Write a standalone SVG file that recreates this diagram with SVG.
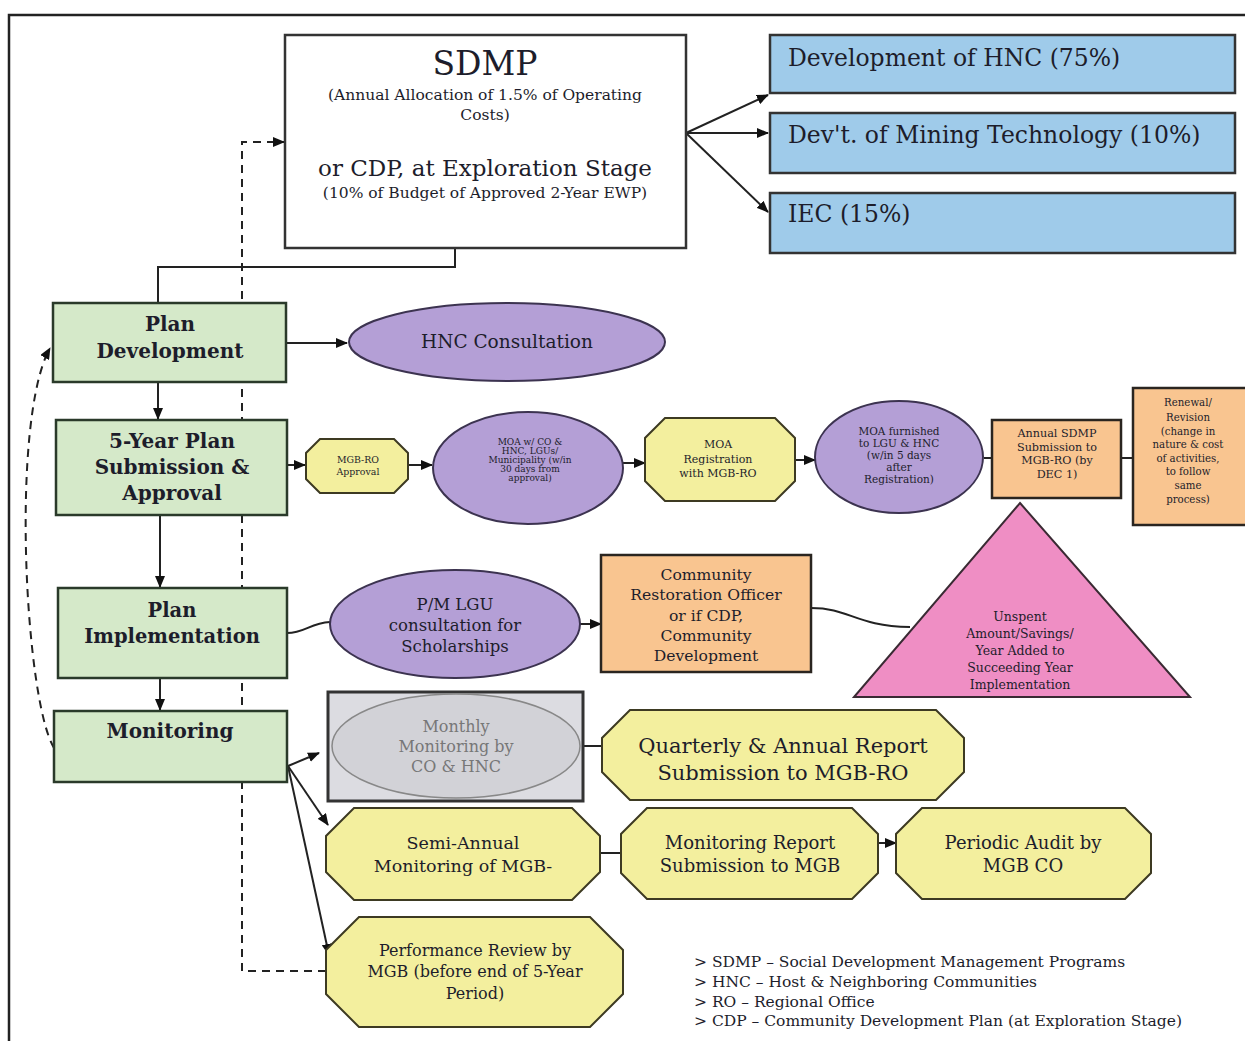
<svg xmlns="http://www.w3.org/2000/svg" width="1245" height="1041" viewBox="0 0 1245 1041">
<style>
text{font-family:"DejaVu Serif","Liberation Serif",serif;fill:#1d1d2b;text-anchor:middle}
.lt{text-anchor:start}
.bd{font-weight:bold}
.g{fill:#d5e9c9;stroke:#2a3a2a;stroke-width:2.5}
.b{fill:#9fcbea;stroke:#333;stroke-width:2.5}
.p{fill:#b49fd6;stroke:#3c3350;stroke-width:2}
.y{fill:#f3ef9e;stroke:#3d3a22;stroke-width:2}
.o{fill:#f9c590;stroke:#2a2520;stroke-width:2.5}
.pk{fill:#ef8ec4;stroke:#3a2a33;stroke-width:2}
.w{fill:#fff;stroke:#333;stroke-width:2.5}
.c{fill:none;stroke:#222;stroke-width:2}
.d{fill:none;stroke:#222;stroke-width:2;stroke-dasharray:8 6}
</style>
<defs>
<marker id="a" markerUnits="userSpaceOnUse" markerWidth="12" markerHeight="10" refX="11" refY="5" orient="auto"><path d="M0,0 L12,5 L0,10 z" fill="#111"/></marker>
</defs>
<rect width="1245" height="1041" fill="#fff"/>
<path d="M9,1041 V15 H1245" fill="none" stroke="#222" stroke-width="2.5"/>

<g id="connectors">
<path class="c" d="M686,133 L768,95" marker-end="url(#a)"/>
<path class="c" d="M686,133 L768,133" marker-end="url(#a)"/>
<path class="c" d="M686,133 L768,212" marker-end="url(#a)"/>
<path class="c" d="M455,248 V267 H158 V303" stroke-width="1.5"/>
<path class="c" d="M286,343 H347" marker-end="url(#a)"/>
<path class="c" d="M158,382 V419" marker-end="url(#a)"/>
<path class="c" d="M160,515 V587" marker-end="url(#a)"/>
<path class="c" d="M160,678 V710" marker-end="url(#a)"/>
<path class="c" d="M287,465 H305" marker-end="url(#a)"/>
<path class="c" d="M408,465 H432" marker-end="url(#a)"/>
<path class="c" d="M623,463 H645" marker-end="url(#a)"/>
<path class="c" d="M795,460 H815" marker-end="url(#a)"/>
<path class="c" d="M984,458 H992"/>
<path class="c" d="M1121,458 H1133"/>
<path class="c" d="M287,633 C305,633 310,623 330,622" stroke-width="1.5"/>
<path class="c" d="M580,624 H601" marker-end="url(#a)"/>
<path class="c" d="M811,608 C850,608 855,626 910,627" stroke-width="1.5"/>
<path class="c" d="M288,766 L319,753" marker-end="url(#a)"/>
<path class="c" d="M288,766 L328,825" marker-end="url(#a)"/>
<path class="c" d="M288,766 L329,955" marker-end="url(#a)"/>
<path class="c" d="M583,746 H602" stroke="#555"/>
<path class="c" d="M600,853 H622" stroke="#555"/>
<path class="c" d="M878,843 H896" marker-end="url(#a)"/>
<path class="d" d="M326,971 H242 V142 H284" marker-end="url(#a)"/>
<path class="d" d="M54,748 C25,700 10,420 50,348" marker-end="url(#a)"/>
</g>

<g id="sdmp">
<rect class="w" x="285" y="35" width="401" height="213"/>
<text x="485" y="75" font-size="33">SDMP</text>
<text x="485" y="100" font-size="15.5">(Annual Allocation of 1.5% of Operating</text>
<text x="485" y="120" font-size="15.5">Costs)</text>
<text x="485" y="176" font-size="23">or CDP, at  Exploration Stage</text>
<text x="485" y="198" font-size="15.5">(10% of Budget of Approved 2-Year EWP)</text>
</g>
<g id="hnc-dev"><rect class="b" x="770" y="35" width="465" height="58"/><text class="lt" x="788" y="66" font-size="23.5">Development of HNC (75%)</text></g>
<g id="mining-tech"><rect class="b" x="770" y="113" width="465" height="60"/><text class="lt" x="788" y="143" font-size="23.5">Dev't. of Mining Technology (10%)</text></g>
<g id="iec"><rect class="b" x="770" y="193" width="465" height="60"/><text class="lt" x="788" y="222" font-size="23.5">IEC (15%)</text></g>

<g id="plan-development"><rect class="g" x="53" y="303" width="233" height="79"/><text class="bd" x="170" y="331" font-size="20">Plan</text><text class="bd" x="170" y="358" font-size="20">Development</text></g>
<g id="five-year"><rect class="g" x="56" y="420" width="231" height="95"/><text class="bd" x="172" y="448" font-size="20">5-Year Plan</text><text class="bd" x="172" y="474" font-size="20">Submission &amp;</text><text class="bd" x="172" y="500" font-size="20">Approval</text></g>
<g id="plan-implementation"><rect class="g" x="58" y="588" width="229" height="90"/><text class="bd" x="172" y="617" font-size="19.5">Plan</text><text class="bd" x="172" y="643" font-size="19.5">Implementation</text></g>
<g id="monitoring"><rect class="g" x="54" y="711" width="233" height="71"/><text class="bd" x="170" y="738" font-size="20">Monitoring</text></g>

<g id="hnc-consultation"><ellipse class="p" cx="507" cy="342" rx="158" ry="39"/><text x="507" y="348" font-size="18.5">HNC Consultation</text></g>

<g id="mgbro-approval"><polygon class="y" points="320,439 394,439 408,453 408,479 394,493 320,493 306,479 306,453"/><text x="358" y="463" font-size="9.4">MGB-RO</text><text x="358" y="475" font-size="9.4">Approval</text></g>
<g id="moa"><ellipse class="p" cx="528" cy="468" rx="95" ry="56"/><text x="530" y="445" font-size="9">MOA w/ CO &amp;</text><text x="530" y="454" font-size="9">HNC, LGUs/</text><text x="530" y="463" font-size="9">Municipality (w/in</text><text x="530" y="472" font-size="9">30 days from</text><text x="530" y="481" font-size="9">approval)</text></g>
<g id="moa-registration"><polygon class="y" points="665,418 775,418 795,438 795,481 775,501 665,501 645,481 645,438"/><text x="718" y="448" font-size="11">MOA</text><text x="718" y="463" font-size="11">Registration</text><text x="718" y="477" font-size="11">with MGB-RO</text></g>
<g id="moa-furnished"><ellipse class="p" cx="899" cy="457" rx="84" ry="56"/><text x="899" y="435" font-size="10.5">MOA furnished</text><text x="899" y="447" font-size="10.5">to LGU &amp; HNC</text><text x="899" y="459" font-size="10.5">(w/in 5 days</text><text x="899" y="471" font-size="10.5">after</text><text x="899" y="483" font-size="10.5">Registration)</text></g>
<g id="annual-sdmp"><rect class="o" x="992" y="420" width="129" height="78"/><text x="1057" y="437" font-size="11.2">Annual SDMP</text><text x="1057" y="451" font-size="11.2">Submission to</text><text x="1057" y="464" font-size="11.2">MGB-RO (by</text><text x="1057" y="478" font-size="11.2">DEC 1)</text></g>
<g id="renewal"><rect class="o" x="1133" y="388" width="120" height="137"/><text x="1188" y="406" font-size="10.2">Renewal/</text><text x="1188" y="421" font-size="10.2">Revision</text><text x="1188" y="435" font-size="10.2">(change in</text><text x="1188" y="448" font-size="10.2">nature &amp; cost</text><text x="1188" y="462" font-size="10.2">of activities,</text><text x="1188" y="475" font-size="10.2">to follow</text><text x="1188" y="489" font-size="10.2">same</text><text x="1188" y="503" font-size="10.2">process)</text></g>

<g id="unspent"><polygon class="pk" points="1020,503 1190,697 854,697"/><text x="1020" y="621" font-size="12.5">Unspent</text><text x="1020" y="638" font-size="12.5">Amount/Savings/</text><text x="1020" y="655" font-size="12.5">Year Added to</text><text x="1020" y="672" font-size="12.5">Succeeding Year</text><text x="1020" y="689" font-size="12.5">Implementation</text></g>
<g id="pm-lgu"><ellipse class="p" cx="455" cy="624" rx="125" ry="54"/><text x="455" y="610" font-size="16.5">P/M LGU</text><text x="455" y="631" font-size="16.5">consultation for</text><text x="455" y="652" font-size="16.5">Scholarships</text></g>
<g id="community-restoration"><rect class="o" x="601" y="555" width="210" height="117"/><text x="706" y="580" font-size="15.6">Community</text><text x="706" y="600" font-size="15.6">Restoration Officer</text><text x="706" y="621" font-size="15.6">or if CDP,</text><text x="706" y="641" font-size="15.6">Community</text><text x="706" y="661" font-size="15.6">Development</text></g>

<g id="monthly-monitoring"><rect x="328" y="692" width="255" height="109" fill="#dcdce1" stroke="#333" stroke-width="3"/><ellipse cx="456" cy="746" rx="124" ry="52" fill="#d2d2d7" stroke="#888" stroke-width="1.5"/><text x="456" y="732" font-size="16" style="fill:#777">Monthly</text><text x="456" y="752" font-size="16" style="fill:#777">Monitoring by</text><text x="456" y="772" font-size="16" style="fill:#777">CO &amp; HNC</text></g>
<g id="quarterly"><polygon class="y" points="630,710 936,710 964,738 964,772 936,800 630,800 602,772 602,738"/><text x="783" y="753" font-size="21">Quarterly &amp; Annual Report</text><text x="783" y="780" font-size="21">Submission to MGB-RO</text></g>
<g id="semi-annual"><polygon class="y" points="354,808 572,808 600,836 600,872 572,900 354,900 326,872 326,836"/><text x="463" y="849" font-size="17.5">Semi-Annual</text><text x="463" y="872" font-size="17.5">Monitoring of MGB-</text></g>
<g id="monitoring-report"><polygon class="y" points="647,808 852,808 878,834 878,873 852,899 647,899 621,873 621,834"/><text x="750" y="849" font-size="18">Monitoring Report</text><text x="750" y="872" font-size="18">Submission to MGB</text></g>
<g id="periodic-audit"><polygon class="y" points="922,808 1125,808 1151,834 1151,873 1125,899 922,899 896,873 896,834"/><text x="1023" y="849" font-size="18">Periodic Audit by</text><text x="1023" y="872" font-size="18">MGB CO</text></g>
<g id="performance-review"><polygon class="y" points="359,917 590,917 623,950 623,994 590,1027 359,1027 326,994 326,950"/><text x="475" y="956" font-size="16">Performance Review by</text><text x="475" y="977" font-size="16">MGB (before end of 5-Year</text><text x="475" y="999" font-size="16">Period)</text></g>

<g id="legend" font-size="15.5">
<text class="lt" x="694" y="967">&gt; SDMP – Social Development Management Programs</text>
<text class="lt" x="694" y="987">&gt; HNC – Host &amp; Neighboring Communities</text>
<text class="lt" x="694" y="1007">&gt; RO – Regional Office</text>
<text class="lt" x="694" y="1026">&gt; CDP – Community Development Plan (at Exploration Stage)</text>
</g>
</svg>
